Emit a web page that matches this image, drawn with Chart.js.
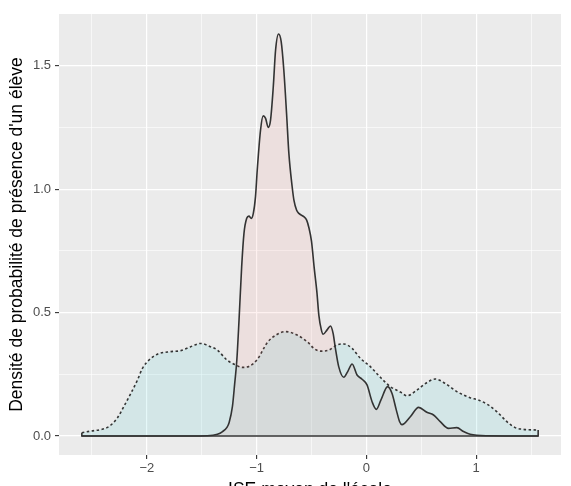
<!DOCTYPE html>
<html>
<head>
<meta charset="utf-8">
<script src="https://cdn.jsdelivr.net/npm/chart.js@4"></script>
<style>
  html, body { margin: 0; padding: 0; background: #fff; overflow: hidden; }
  #wrap { width: 571px; height: 501px; }
</style>
</head>
<body>
<div id="wrap"><canvas id="myChart" width="571" height="501"></canvas></div>
<script>
// Densité : courbe pleine (ISE des écoles, pondéré élèves)
const solidX = [-2.592, -1.6, -1.45, -1.357, -1.31, -1.27, -1.25, -1.22, -1.2, -1.18, -1.16, -1.136, -1.115,
  -1.09, -1.07, -1.048, -1.03, -1.01, -0.994, -0.964, -0.94, -0.918, -0.894, -0.873, -0.848, -0.827, -0.8,
  -0.776, -0.752, -0.727, -0.706, -0.676, -0.66, -0.636, -0.615, -0.57, -0.544, -0.524, -0.5, -0.475, -0.45,
  -0.433, -0.41, -0.394, -0.358, -0.327, -0.303, -0.282, -0.252, -0.206, -0.17, -0.13, -0.085, -0.039, 0.006,
  0.052, 0.091, 0.133, 0.194, 0.233, 0.273, 0.303, 0.324, 0.4, 0.476, 0.551, 0.612, 0.673, 0.748, 0.824,
  0.885, 0.945, 1.1, 1.565];
const solidY = [0, 0, 0.001, 0.007, 0.018, 0.035, 0.055, 0.12, 0.21, 0.308, 0.47, 0.686, 0.821,
  0.882, 0.891, 0.882, 0.902, 0.97, 1.078, 1.24, 1.297, 1.287, 1.25, 1.28, 1.415, 1.564, 1.629,
  1.598, 1.483, 1.307, 1.145, 1.01, 0.956, 0.916, 0.902, 0.889, 0.875, 0.845, 0.79, 0.68, 0.58,
  0.49, 0.43, 0.412, 0.43, 0.446, 0.416, 0.355, 0.281, 0.238, 0.261, 0.292, 0.247, 0.23, 0.207,
  0.139, 0.108, 0.146, 0.2, 0.173, 0.105, 0.058, 0.046, 0.078, 0.116, 0.096, 0.085, 0.058, 0.031, 0.034,
  0.018, 0.007, 0.001, 0];

// Densité : courbe pointillée
const dottedX = [-2.592, -2.51, -2.4, -2.34, -2.27, -2.21, -2.145, -2.085, -2.04, -1.98, -1.9, -1.78, -1.69,
  -1.6, -1.51, -1.42, -1.357, -1.27, -1.19, -1.13, -1.07, -0.994, -0.9, -0.82, -0.736, -0.63, -0.524, -0.479,
  -0.418, -0.342, -0.267, -0.206, -0.13, -0.055, 0.036, 0.127, 0.218, 0.31, 0.37, 0.46, 0.55, 0.627, 0.718,
  0.824, 0.945, 1.02, 1.11, 1.19, 1.28, 1.355, 1.43, 1.565];
const dottedY = [0.013, 0.02, 0.028, 0.04, 0.072, 0.119, 0.173, 0.227, 0.274, 0.308, 0.332, 0.342, 0.346,
  0.362, 0.375, 0.362, 0.348, 0.308, 0.288, 0.278, 0.282, 0.31, 0.38, 0.41, 0.423, 0.409, 0.376, 0.355,
  0.344, 0.348, 0.369, 0.373, 0.355, 0.315, 0.281, 0.238, 0.2, 0.178, 0.163, 0.186, 0.216, 0.231, 0.213,
  0.18, 0.155, 0.146, 0.126, 0.098, 0.058, 0.034, 0.027, 0.024];

// graduations
const xTicks = [-2, -1, 0, 1];
const xTickLabels = ['\u22122', '\u22121', '0', '1'];
const xMinor = [-2.5, -1.5, -0.5, 0.5, 1.5];
const yTicks = [0, 0.5, 1, 1.5];
const yTickLabels = ['0.0', '0.5', '1.0', '1.5'];
const yMinor = [0.25, 0.75, 1.25];

const toPoints = (xs, ys) => xs.map((x, i) => ({ x: x, y: ys[i] }));

const xMin = solidX[0];
const xMax = solidX[solidX.length - 1];
const baseline = [
  { x: xMin, y: dottedY[0] }, { x: xMin, y: 0 },
  { x: xMax, y: 0 }, { x: xMax, y: dottedY[dottedY.length - 1] }
];

const FONT = "'Liberation Sans', Arial, sans-serif";
const lineCol = '#333333';

// fond gris du panneau
const panelBg = {
  id: 'panelBg',
  beforeDraw(chart) {
    const { ctx, chartArea: a } = chart;
    ctx.save();
    ctx.fillStyle = '#EBEBEB';
    ctx.fillRect(a.left, a.top, a.right - a.left, a.bottom - a.top);
    ctx.restore();
  }
};

function axisOpts(major, labels, minor) {
  const isMajor = v => major.indexOf(v) !== -1;
  return {
    type: 'linear',
    afterBuildTicks: scale => {
      scale.ticks = major.concat(minor).sort((a, b) => a - b).map(v => ({ value: v }));
    },
    ticks: {
      autoSkip: false,
      maxRotation: 0,
      color: '#4D4D4D',
      font: { family: FONT, size: 13 },
      padding: 3,
      callback: v => isMajor(v) ? labels[major.indexOf(v)] : ''
    },
    grid: {
      color: '#FFFFFF',
      lineWidth: c => (c.tick && isMajor(c.tick.value)) ? 1.2 : 0.6,
      tickColor: c => (c.tick && isMajor(c.tick.value)) ? lineCol : 'rgba(0,0,0,0)',
      tickWidth: 1.1,
      tickLength: 4
    },
    border: { display: false }
  };
}

const xAxis = axisOpts(xTicks, xTickLabels, xMinor);
xAxis.min = -2.8;
xAxis.max = 1.773;
xAxis.afterFit = s => { s.height = 46; };
xAxis.ticks.padding = 2;
xAxis.title = {
  display: true, text: "ISE moyen de l'école", color: '#000',
  font: { family: FONT, size: 17.5 }, padding: { top: 0, bottom: 0 }
};

const yAxis = axisOpts(yTicks, yTickLabels, yMinor);
yAxis.min = -0.077;
yAxis.max = 1.71;
yAxis.afterFit = s => { s.width = 59; };
yAxis.ticks.padding = 4;
yAxis.title = {
  display: true, text: "Densité de probabilité de présence d'un élève", color: '#000',
  font: { family: FONT, size: 17.5 }, padding: { top: 7, bottom: 0 }
};

const ctx = document.getElementById('myChart').getContext('2d');
const myChart = new Chart(ctx, {
  type: 'line',
  data: {
    datasets: [{
      data: baseline,
      borderColor: lineCol,
      borderWidth: 1.6,
      pointRadius: 0,
      tension: 0,
      fill: false
    }, {
      data: toPoints(solidX, solidY),
      borderColor: lineCol,
      borderWidth: 1.6,
      backgroundColor: 'rgba(248, 118, 109, 0.1)',
      pointRadius: 0,
      cubicInterpolationMode: 'monotone',
      fill: 'origin'
    }, {
      data: toPoints(dottedX, dottedY),
      borderColor: lineCol,
      borderWidth: 1.6,
      borderDash: [2.5, 2.5],
      backgroundColor: 'rgba(0, 191, 196, 0.1)',
      pointRadius: 0,
      cubicInterpolationMode: 'monotone',
      fill: 'origin'
    }]
  },
  options: {
    responsive: false,
    animation: false,
    layout: { padding: { top: 14, right: 10, left: 0, bottom: 0 } },
    plugins: { legend: { display: false }, tooltip: { enabled: false } },
    scales: { x: xAxis, y: yAxis }
  },
  plugins: [panelBg]
});
</script>
</body>
</html>
